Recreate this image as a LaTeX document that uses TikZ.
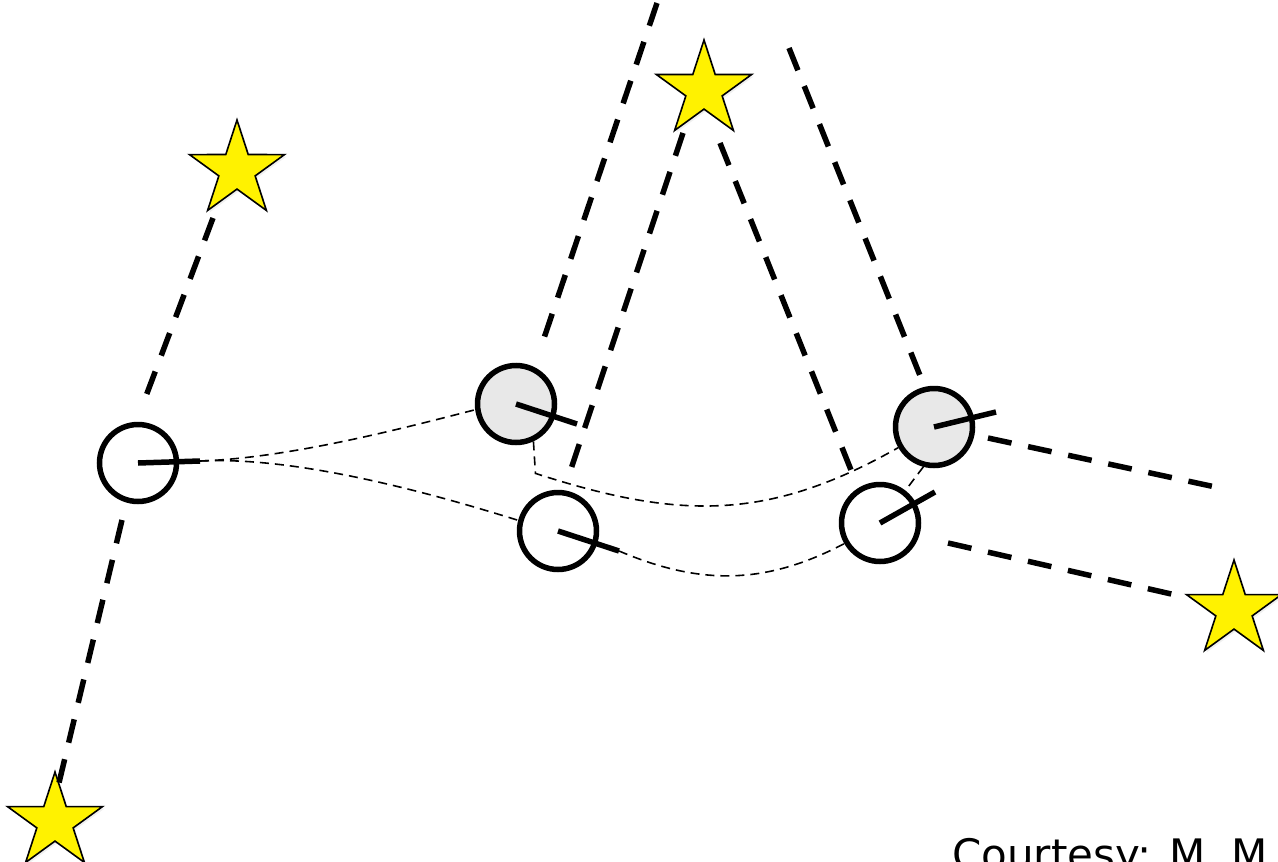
\documentclass[tikz,border=0pt]{standalone}
\usepackage{fontspec}
\newfontfamily\creditfont{DejaVu Sans}
\usetikzlibrary{shapes.geometric, calc, shadows}
\definecolor{seedgray}{HTML}{E8E8E8}
\tikzset{
    every picture/.style={line join=miter},
}

\begin{document}
\begin{tikzpicture}
            [x=1pt, y=-1pt,
            hit/.style={circle, draw=black, line width=5.5pt, minimum size=77pt, inner sep=0pt},
            seed/.style={hit, fill=seedgray},
            beacon/.style={star, star points=5, star point ratio=2.618, minimum size=100pt,
                inner sep=0pt, draw=black, line width=1.6pt, fill=yellow,
                drop shadow={shadow xshift=2pt, shadow yshift=-2pt, opacity=0.12}},
            track/.style={line width=5.5pt, dash pattern=on 24pt off 17pt},
            needle/.style={line width=5.5pt},
            guess/.style={line width=1.6pt, dash pattern=on 9pt off 6pt}]

            \useasboundingbox (0,0) rectangle (1278,862);

            % stars
            \node[beacon] (s1) at (237,170) {};
            \node[beacon] (s2) at (704,90) {};
            \node[beacon] (s3) at (1234,610) {};
            \node[beacon] (s4) at (55,822) {};

            % hits
            \node[hit] (c1) at (138,463) {};
            \node[seed] (c2) at (516,404) {};
            \node[hit] (c3) at (558,531) {};
            \node[seed] (c4) at (934,427) {};
            \node[hit] (c5) at (880,523) {};

            \coordinate (top1) at (657,3);
            \coordinate (top2) at (789,48);
            \coordinate (right1) at (1220,488);

            % tracks
            \draw[track] ($(s1)+(-24,48)$) -- ($(c1)+(5,-59)$);
            \draw[track] ($(c1)+(-16,57)$) -- ($(s4)+(3,-35)$);
            \draw[track] (top1) -- ($(c2)+(24,-54)$);
            \draw[track] ($(s2)+(-21,43)$) -- ($(c3)+(10,-53)$);
            \draw[track] ($(s2)+(16,53)$) -- ($(c5)+(-27,-48)$);
            \draw[track] (top2) -- ($(c4)+(-11,-44)$);
            \draw[track] ($(c4)+(54,11)$) -- (right1);
            \draw[track] ($(c5)+(68,20)$) -- ($(s3)+(-54,-14)$);

            % directions
            \draw[needle] (c1.center) -- ++(62,-2) coordinate (c1tip);
            \draw[needle] (c2.center) -- ++(61,20);
            \draw[needle] (c3.center) -- ++(61,20) coordinate (c3tip);
            \draw[needle] (c4.center) -- ++(62,-15);
            \draw[needle] (c5.center) -- ++(55,-31);

            % candidate links
            \draw[guess] (c1tip) .. controls +(90,-3) and +(-70,18) .. (c2.188);
            \draw[guess] (c1tip) .. controls +(100,-5) and +(-80,-25) .. (c3.165);
            \draw[guess] (c2.295) -- ++(2,32) .. controls +(145,47) and +(-129,73) .. (c4.210);
            \draw[guess] (c3tip) .. controls +(80,34) and +(-80,42) .. (c5.210);
            \draw[guess] (c4.255) -- (c5.52);

            \node[anchor=base west, inner sep=0pt, font=\creditfont\fontsize{42}{50}\selectfont]
                (credit) at (952,869) {Courtesy: M. M};
        \end{tikzpicture}
\end{document}
